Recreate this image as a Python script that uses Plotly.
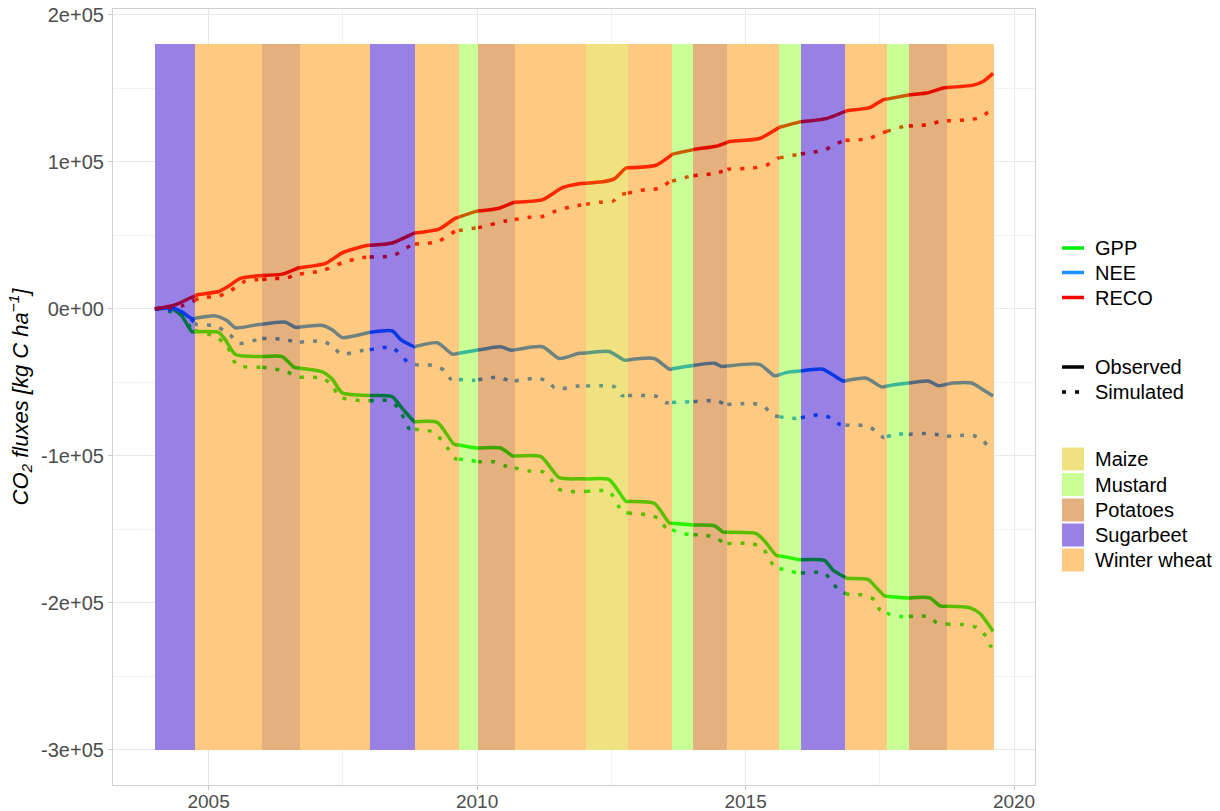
import numpy as np
import plotly.graph_objects as go

# ---- crop calendar (decimal years) --------------------------------------
crop_bounds = [2004.00, 2004.74, 2006.00, 2006.70, 2008.00, 2008.84, 2009.66,
               2010.02, 2010.70, 2012.03, 2012.81, 2013.63, 2014.03, 2014.66,
               2015.63, 2016.03, 2016.86, 2017.63, 2018.04, 2018.75, 2019.63]
crop_names = ["Sugarbeet", "Winter wheat", "Potatoes", "Winter wheat", "Sugarbeet",
              "Winter wheat", "Mustard", "Potatoes", "Winter wheat", "Maize",
              "Winter wheat", "Mustard", "Potatoes", "Winter wheat", "Mustard",
              "Sugarbeet", "Winter wheat", "Mustard", "Potatoes", "Winter wheat"]
crop_legend = ["Maize", "Mustard", "Potatoes", "Sugarbeet", "Winter wheat"]
crop_fill = {"Maize": "#F0E280", "Mustard": "#CAFF98", "Potatoes": "#E4B07E",
             "Sugarbeet": "#9880E4", "Winter wheat": "#FEC980"}
band_bottom, band_top = -300000, 180000

# ---- cumulative fluxes, 10^3 kg C ha-1 ----------------------------------
gpp_obs_t = [2004.00, 2004.32, 2004.50, 2004.69, 2005.19, 2005.31, 2005.50, 2005.99, 2006.37, 2006.59,
             2007.12, 2007.30, 2007.49, 2007.99, 2008.42, 2008.61, 2008.83, 2009.26, 2009.57, 2009.98,
             2010.44, 2010.66, 2011.19, 2011.53, 2011.90, 2012.46, 2012.77, 2013.30, 2013.58, 2014.02,
             2014.42, 2014.58, 2015.20, 2015.35, 2015.57, 2016.01, 2016.47, 2016.63, 2016.88, 2017.28,
             2017.41, 2017.59, 2018.00, 2018.43, 2018.62, 2019.18, 2019.37, 2019.61]
gpp_obs_v = [0, 0, -4.8, -15.6, -16.1, -20.9, -31.1, -32.5, -32.5, -39.7,
             -42.9, -47.8, -57.2, -59.0, -59.8, -67.9, -76.8, -77.3, -92.1, -94.7,
             -94.7, -100.1, -100.6, -114.9, -115.7, -116.2, -131.0, -132.3, -145.7, -147.1,
             -147.6, -151.9, -153.0, -157.8, -167.7, -170.7, -171.2, -177.9, -183.3, -184.1,
             -188.7, -195.4, -196.7, -196.7, -202.1, -203.4, -207.5, -219.5]

gpp_sim_t = [2004.00, 2004.50, 2004.69, 2005.12, 2005.34, 2005.53, 2005.99, 2006.43, 2006.65, 2007.12,
             2007.30, 2007.43, 2007.86, 2008.36, 2008.55, 2008.73, 2009.20, 2009.45, 2009.60, 2010.07,
             2010.32, 2010.51, 2010.97, 2011.22, 2011.38, 2011.50, 2011.72, 2012.46, 2012.71, 2013.21,
             2013.40, 2013.52, 2013.96, 2014.20, 2014.45, 2014.61, 2015.10, 2015.32, 2015.54, 2015.76,
             2015.98, 2016.47, 2016.63, 2016.75, 2016.94, 2017.19, 2017.41, 2017.50, 2017.69, 2017.90,
             2018.40, 2018.56, 2018.81, 2019.05, 2019.30, 2019.46, 2019.55, 2019.60]
gpp_sim_v = [0, -4.0, -14.2, -18.8, -25.0, -38.4, -39.7, -42.4, -46.4, -47.2,
             -51.8, -59.8, -62.5, -62.5, -67.9, -81.3, -84.0, -94.7, -102.0, -104.1,
             -104.1, -106.8, -110.3, -110.8, -116.2, -122.4, -124.3, -124.3, -138.5, -140.4,
             -143.1, -149.3, -153.8, -153.8, -155.7, -159.7, -159.7, -162.7, -175.8, -177.9,
             -179.8, -179.8, -186.8, -192.2, -194.6, -194.6, -198.1, -204.8, -208.0, -209.4,
             -209.4, -213.5, -214.8, -214.8, -216.7, -222.1, -228.8, -231.0]

nee_obs_t = [2004.00, 2004.32, 2004.50, 2004.69, 2005.12, 2005.34, 2005.50, 2005.93, 2006.43, 2006.62,
             2007.12, 2007.30, 2007.49, 2007.99, 2008.42, 2008.58, 2008.83, 2009.26, 2009.54, 2009.85,
             2010.44, 2010.63, 2011.22, 2011.53, 2011.90, 2012.46, 2012.74, 2013.30, 2013.58, 2013.96,
             2014.42, 2014.55, 2015.26, 2015.54, 2015.82, 2016.44, 2016.63, 2016.82, 2017.25, 2017.53,
             2017.84, 2018.40, 2018.59, 2018.87, 2019.21, 2019.40, 2019.61]
nee_obs_v = [0, 0.5, -2.1, -6.7, -4.8, -8.0, -12.9, -10.7, -9.1, -12.6,
             -11.3, -14.2, -19.6, -16.1, -15.0, -20.9, -25.8, -23.1, -30.9, -29.0,
             -25.8, -28.2, -25.8, -33.8, -30.3, -29.0, -34.9, -33.8, -41.1, -38.9,
             -37.0, -39.2, -37.8, -45.6, -42.9, -41.1, -45.1, -49.1, -47.2, -53.1,
             -51.3, -49.1, -52.3, -50.5, -50.5, -54.5, -59.3]

nee_sim_t = [2004.00, 2004.50, 2004.78, 2005.12, 2005.40, 2005.56, 2005.99, 2006.43, 2006.65, 2007.12,
             2007.33, 2007.46, 2007.86, 2008.42, 2008.73, 2008.92, 2009.17, 2009.39, 2009.51, 2009.95,
             2010.41, 2010.63, 2011.10, 2011.31, 2011.47, 2011.87, 2012.34, 2012.56, 2012.68, 2013.15,
             2013.36, 2013.52, 2013.96, 2014.45, 2014.64, 2015.14, 2015.35, 2015.51, 2015.73, 2015.94,
             2016.16, 2016.41, 2016.60, 2016.75, 2016.97, 2017.24, 2017.41, 2017.57, 2017.81, 2018.06,
             2018.31, 2018.53, 2018.74, 2019.24, 2019.43, 2019.55, 2019.60]
nee_sim_v = [0, -2.0, -10.7, -11.5, -17.7, -23.6, -20.1, -20.9, -22.8, -22.0,
             -25.8, -30.9, -28.4, -26.3, -37.0, -38.4, -38.4, -41.9, -47.8, -48.6,
             -46.4, -49.4, -47.2, -49.1, -54.5, -52.6, -52.3, -53.1, -59.0, -59.0,
             -59.8, -63.9, -63.3, -62.5, -65.2, -64.4, -66.6, -72.5, -74.1, -74.6,
             -73.3, -71.9, -74.6, -78.6, -79.4, -79.4, -82.7, -87.5, -85.3, -85.3,
             -84.8, -85.3, -86.7, -86.2, -89.9, -95.3, -96.5]

reco_obs_t = [2004.00, 2004.38, 2004.69, 2004.81, 2005.19, 2005.37, 2005.59, 2005.93, 2006.37, 2006.68,
              2007.18, 2007.49, 2007.92, 2008.42, 2008.83, 2009.29, 2009.60, 2009.98, 2010.41, 2010.69,
              2011.22, 2011.59, 2011.90, 2012.34, 2012.56, 2012.77, 2013.33, 2013.64, 2014.08, 2014.45,
              2014.70, 2015.26, 2015.63, 2016.01, 2016.50, 2016.88, 2017.31, 2017.56, 2018.03, 2018.37,
              2018.68, 2019.24, 2019.43, 2019.61]
reco_obs_v = [0, 2.7, 8.0, 9.7, 11.8, 15.3, 20.7, 22.5, 23.6, 27.9,
              30.9, 38.1, 42.9, 44.8, 51.5, 54.2, 61.7, 66.3, 68.4, 72.5,
              74.3, 82.4, 85.1, 86.4, 88.6, 95.8, 97.7, 105.2, 108.7, 110.6,
              113.8, 115.9, 123.5, 127.2, 129.4, 134.7, 136.9, 142.2, 145.5, 146.8,
              150.3, 152.2, 154.9, 160.2]

reco_sim_t = [2004.00, 2004.50, 2004.88, 2005.12, 2005.37, 2005.68, 2006.18, 2006.43, 2006.62, 2007.12,
              2007.49, 2007.86, 2008.42, 2008.61, 2008.80, 2009.26, 2009.60, 2010.07, 2010.51, 2010.97,
              2011.22, 2011.41, 2011.78, 2012.28, 2012.52, 2012.68, 2013.15, 2013.40, 2013.58, 2013.99,
              2014.45, 2014.67, 2015.14, 2015.39, 2015.60, 2016.01, 2016.22, 2016.47, 2016.66, 2016.85,
              2017.31, 2017.50, 2017.72, 2017.94, 2018.18, 2018.43, 2018.65, 2018.87, 2019.15, 2019.37,
              2019.52, 2019.62]
reco_sim_v = [0, 1.9, 8.0, 8.0, 11.3, 18.8, 20.7, 20.7, 23.3, 26.0,
              31.4, 34.9, 36.0, 39.5, 44.0, 45.6, 52.9, 55.6, 59.6, 62.3,
              62.8, 65.8, 69.8, 72.5, 73.0, 77.8, 81.1, 81.9, 86.4, 90.4,
              92.3, 95.0, 95.8, 97.7, 102.5, 105.2, 106.5, 107.9, 111.9, 114.6,
              115.9, 119.2, 121.8, 124.0, 124.8, 125.3, 128.0, 128.0, 128.8, 129.9,
              133.9, 135.0]

flux_names = ["GPP", "NEE", "RECO"]
kind_names = ["Observed", "Simulated"]
flux_rgb = {"GPP": (0, 238, 0), "NEE": (30, 144, 255), "RECO": (255, 0, 0)}
series = {
    ("GPP", "Observed"): (gpp_obs_t, gpp_obs_v), ("GPP", "Simulated"): (gpp_sim_t, gpp_sim_v),
    ("NEE", "Observed"): (nee_obs_t, nee_obs_v), ("NEE", "Simulated"): (nee_sim_t, nee_sim_v),
    ("RECO", "Observed"): (reco_obs_t, reco_obs_v), ("RECO", "Simulated"): (reco_sim_t, reco_sim_v),
}
line_dash = {"Observed": "solid", "Simulated": "4px,9px"}
LINE_W = 3.5
FONT = "Liberation Sans, Arial, sans-serif"

# figure geometry (pixels)
W, H = 1220, 811
M_L, M_R, M_T, M_B = 113, 185, 9, 26
PLOT_W, PLOT_H = W - M_L - M_R, H - M_T - M_B


def px_x(px):
    return (px - M_L) / PLOT_W


def px_y(py):
    return (H - M_B - py) / PLOT_H


def hex_rgb(h):
    h = h.lstrip("#")
    return tuple(int(h[i:i + 2], 16) for i in (0, 2, 4))


def seen_through(line_rgb, band_hex, k=0.64):
    """Colour of a line lying under a translucent crop band."""
    band = hex_rgb(band_hex)
    out = [max(0, min(255, round(b - k * (255 - l)))) for l, b in zip(line_rgb, band)]
    return "rgb(%d,%d,%d)" % tuple(out)


fig = go.Figure()

# crop bands as bars spanning the band height
starts = np.array(crop_bounds[:-1])
ends = np.array(crop_bounds[1:])
for c in crop_legend:
    idx = [i for i, n in enumerate(crop_names) if n == c]
    fig.add_trace(go.Bar(
        x=(starts[idx] + ends[idx]) / 2, y=[band_top - band_bottom] * len(idx),
        base=[band_bottom] * len(idx), width=ends[idx] - starts[idx],
        marker=dict(color=crop_fill[c], line=dict(width=0)),
        name=c, showlegend=False, hoverinfo="skip"))

# flux lines, one piece per crop band so each piece takes the band's tint
for (f, kind), (t, v) in series.items():
    t = np.asarray(t, float)
    v = np.asarray(v, float) * 1000.0
    for i, crop in enumerate(crop_names):
        lo, hi = max(starts[i], t[0]), min(ends[i], t[-1])
        if hi <= lo:
            continue
        inside = (t > lo) & (t < hi)
        xs = np.concatenate([[lo], t[inside], [hi]])
        ys = np.concatenate([[np.interp(lo, t, v)], v[inside], [np.interp(hi, t, v)]])
        fig.add_trace(go.Scatter(
            x=xs, y=ys, mode="lines", showlegend=False, hoverinfo="skip", name=f"{f} {kind}",
            line=dict(color=seen_through(flux_rgb[f], crop_fill[crop]), width=LINE_W,
                      dash=line_dash[kind], shape="spline", smoothing=0.6)))

# ---- legend: three key groups at the right of the panel ------------------
KEY_X0, KEY_X1, TEXT_X = 1062, 1084, 1093
shapes, notes = [], []


def legend_text(label, py):
    notes.append(dict(text=label, x=px_x(TEXT_X), y=px_y(py), xref="paper", yref="paper",
                      xanchor="left", yanchor="middle", showarrow=False,
                      font=dict(family=FONT, size=20, color="black")))


for label, py in zip(flux_names, [248, 272.5, 297.5]):
    shapes.append(dict(type="line", xref="paper", yref="paper",
                       x0=px_x(KEY_X0), x1=px_x(KEY_X1), y0=px_y(py), y1=px_y(py),
                       line=dict(color="rgb(%d,%d,%d)" % flux_rgb[label], width=LINE_W)))
    legend_text(label, py)

for label, py in zip(kind_names, [367, 392]):
    shapes.append(dict(type="line", xref="paper", yref="paper",
                       x0=px_x(KEY_X0), x1=px_x(KEY_X1), y0=px_y(py), y1=px_y(py),
                       line=dict(color="black", width=LINE_W, dash=line_dash[label])))
    legend_text(label, py)

for label, py in zip(crop_legend, [459, 484.5, 510, 535, 560]):
    shapes.append(dict(type="rect", xref="paper", yref="paper",
                       x0=px_x(KEY_X0), x1=px_x(KEY_X1), y0=px_y(py - 11.5), y1=px_y(py + 11.5),
                       fillcolor=crop_fill[label], line=dict(width=0)))
    legend_text(label, py)

y_ticks = [-300000, -200000, -100000, 0, 100000, 200000]
y_labels = ["-3e+05", "-2e+05", "-1e+05", "0e+00", "1e+05", "2e+05"]
x_ticks = [2005, 2010, 2015, 2020]

axis_common = dict(showline=True, mirror=True, linecolor="#D0D0D0", linewidth=1.2,
                   showgrid=True, gridcolor="#E8E8E8", gridwidth=1, automargin=False,
                   ticks="outside", ticklen=4, tickcolor="#C8C8C8", zeroline=False)

fig.update_layout(
    width=W, height=H,
    margin=dict(l=M_L, r=M_R, t=M_T, b=M_B),
    paper_bgcolor="white", plot_bgcolor="white",
    barmode="overlay", bargap=0,
    font=dict(family=FONT, color="black"),
    showlegend=False,
    shapes=shapes, annotations=notes,
    xaxis=dict(range=[2003.22, 2020.39], tickmode="array", tickvals=x_ticks,
               ticktext=[str(x) for x in x_ticks], ticklabelstandoff=-5,
               tickfont=dict(family=FONT, size=19, color="#4D4D4D"),
               minor=dict(tickvals=[2007.5, 2012.5, 2017.5], showgrid=True,
                          gridcolor="#F2F2F2", gridwidth=1),
               **axis_common),
    yaxis=dict(range=[-324000, 204000], tickmode="array", tickvals=y_ticks, ticktext=y_labels,
               tickfont=dict(family=FONT, size=20, color="#4D4D4D"),
               minor=dict(tickvals=[-250000, -150000, -50000, 50000, 150000], showgrid=True,
                          gridcolor="#F2F2F2", gridwidth=1),
               title=dict(text="<i>CO<sub>2</sub> fluxes [kg C ha<sup>\u22121</sup>]</i>",
                          font=dict(family=FONT, size=22, color="black"), standoff=6),
               **axis_common),
)

fig.write_html("out.html")
